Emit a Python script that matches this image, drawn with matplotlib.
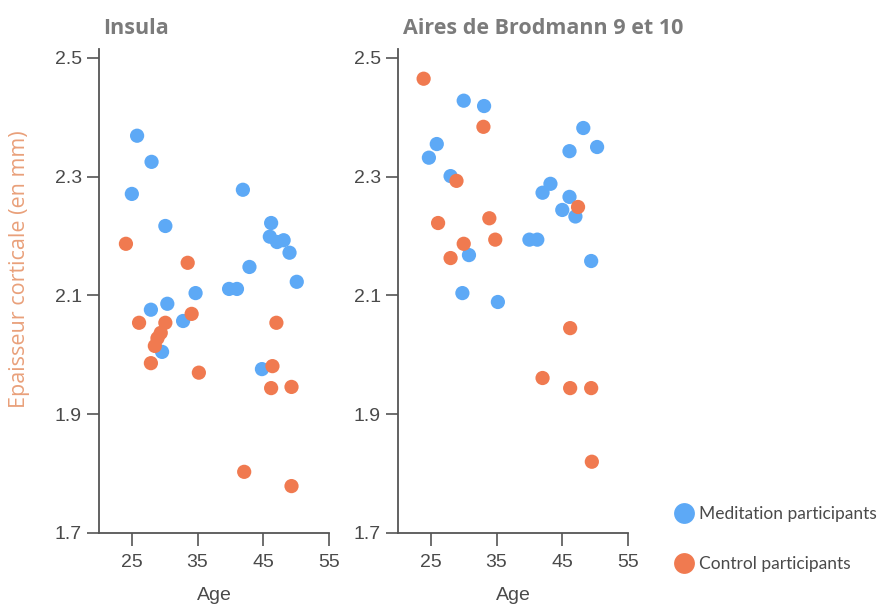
import matplotlib
matplotlib.use("Agg")
import matplotlib.pyplot as plt
from matplotlib.lines import Line2D

# ---- data ----
insula_med_age = [25.8, 28.0, 25.0, 30.1, 41.9, 46.2, 46.0, 47.1, 48.1, 49.0, 50.1, 42.9,
                  39.8, 41.0, 34.7, 27.9, 30.4, 32.8, 29.6, 44.8]
insula_med_val = [2.369, 2.325, 2.271, 2.217, 2.278, 2.222, 2.199, 2.190, 2.193, 2.172, 2.123, 2.148,
                  2.111, 2.111, 2.104, 2.076, 2.086, 2.057, 2.005, 1.976]
insula_ctl_age = [24.1, 33.5, 26.1, 34.1, 30.1, 29.4, 28.9, 28.5, 27.9, 35.2, 47.0, 46.4,
                  46.2, 49.3, 42.1, 49.3]
insula_ctl_val = [2.187, 2.155, 2.054, 2.069, 2.054, 2.037, 2.028, 2.015, 1.986, 1.970, 2.054, 1.981,
                  1.944, 1.946, 1.803, 1.779]

ba_med_age = [30.0, 33.1, 25.9, 24.7, 28.0, 30.8, 48.2, 46.1, 50.3, 42.0, 43.2, 46.1, 45.0, 47.0,
              40.0, 41.2, 49.4, 29.8, 35.2]
ba_med_val = [2.428, 2.419, 2.355, 2.332, 2.301, 2.168, 2.382, 2.343, 2.350, 2.273, 2.288, 2.266,
              2.244, 2.233, 2.194, 2.194, 2.158, 2.104, 2.089]
ba_ctl_age = [23.9, 33.0, 28.9, 26.1, 33.9, 30.0, 34.8, 28.0, 47.4, 46.2, 42.0, 46.2, 49.4, 49.5]
ba_ctl_val = [2.465, 2.384, 2.293, 2.222, 2.230, 2.187, 2.194, 2.163, 2.249, 2.045, 1.961, 1.944,
              1.944, 1.820]

titles = ["Insula", "Aires de Brodmann 9 et 10"]
x_ticks = [25, 35, 45, 55]
y_ticks = [1.7, 1.9, 2.1, 2.3, 2.5]
y_label = "Epaisseur corticale (en mm)"
x_label = "Age"
legend_labels = ["Meditation participants", "Control participants"]

BLUE = "#5DA9F6"
ORANGE = "#F07A50"
AXC = "#555555"
TICKFONT = ["Liberation Sans", "DejaVu Sans"]

fig = plt.figure(figsize=(8.91, 6.09), dpi=100)
positions = [[0.1111, 0.1248, 0.2581, 0.7947], [0.4467, 0.1248, 0.2581, 0.7947]]
datasets = [(insula_med_age, insula_med_val, insula_ctl_age, insula_ctl_val),
            (ba_med_age, ba_med_val, ba_ctl_age, ba_ctl_val)]

for i, (pos, data, title) in enumerate(zip(positions, datasets, titles)):
    ax = fig.add_axes(pos)
    ma, mv, ca, cv = data
    ax.scatter(ma, mv, s=105, color=BLUE, edgecolors="none", zorder=3)
    ax.scatter(ca, cv, s=105, color=ORANGE, edgecolors="none", zorder=4)
    ax.set_xlim(20, 55)
    ax.set_ylim(1.7, 2.515)
    ax.set_xticks(x_ticks)
    ax.set_yticks(y_ticks)
    ax.set_yticklabels([f"{v:.1f}" for v in y_ticks])
    for s in ["top", "right"]:
        ax.spines[s].set_visible(False)
    for s in ["left", "bottom"]:
        ax.spines[s].set_color(AXC)
        ax.spines[s].set_linewidth(1.3)
    ax.tick_params(axis="both", direction="out", length=9, width=1.2, color=AXC,
                   labelcolor="#4a4a4a", labelsize=14)
    ax.tick_params(axis="x", pad=6)
    for lab in ax.get_xticklabels() + ax.get_yticklabels():
        lab.set_family(TICKFONT)
    ax.set_xlabel(x_label, fontsize=14, color="#4a4a4a", family=TICKFONT, labelpad=12)
    ax.set_title(title, loc="left", fontsize=15.5, fontweight="bold", color="#7b7b7b",
                 family=["Open Sans", "DejaVu Sans"], pad=11, x=0.02)
    if i == 0:
        ax.set_ylabel(y_label, fontsize=15.5, color="#E9A07A",
                      family=["Open Sans", "DejaVu Sans"])
        ax.yaxis.set_label_coords(-0.30, 0.545)

handles = [Line2D([], [], marker="o", linestyle="none", markersize=15, color=BLUE, markeredgewidth=0),
           Line2D([], [], marker="o", linestyle="none", markersize=15, color=ORANGE, markeredgewidth=0)]
fig.legend(handles, legend_labels, loc="upper left", bbox_to_anchor=(0.748, 0.18),
           frameon=False, prop={"family": ["Lato", "DejaVu Sans"], "size": 12.5},
           labelcolor="#4a4a4a", handletextpad=0.3, labelspacing=1.95, borderaxespad=0.0,
           handlelength=1.2)

fig.savefig("out.png", dpi=100)
